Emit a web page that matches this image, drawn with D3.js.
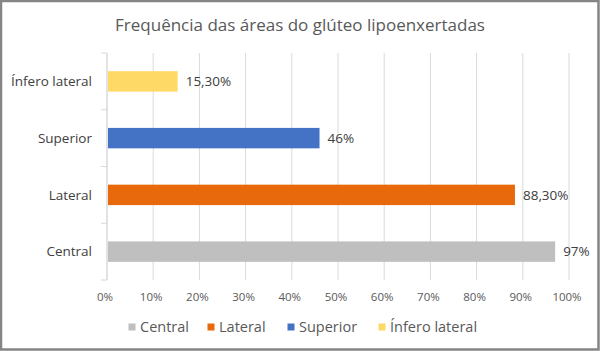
<!DOCTYPE html>
<html>
<head>
<meta charset="utf-8">
<script src="https://cdn.jsdelivr.net/npm/d3@7"></script>
<style>
  html, body { margin: 0; padding: 0; background: #fff; }
  svg { display: block; font-family: "Open Sans", "Noto Sans", sans-serif; }
</style>
</head>
<body>
<div id="chart"></div>
<script>
// Frequência das áreas do glúteo lipoenxertadas - horizontal bars
const categories = ["Central", "Lateral", "Superior", "Ínfero lateral"];
const values = [97, 88.3, 46, 15.3];
const value_labels = ["97%", "88,30%", "46%", "15,30%"];
const colors = ["#bfbfbf", "#e8690b", "#4472c4", "#ffd966"];
const x_ticks = [0, 10, 20, 30, 40, 50, 60, 70, 80, 90, 100];

const w = 600;
const h = 351;
const margin = { top: 53, right: 31, bottom: 71, left: 107 };

const svg = d3.select("#chart").append("svg")
    .attr("width", w)
    .attr("height", h);

// outer frame
svg.append("rect")
    .attr("x", 1).attr("y", 1)
    .attr("width", w - 2.5).attr("height", h - 2.5)
    .attr("fill", "#fff")
    .attr("stroke", "#858585")
    .attr("stroke-width", 2.5);

svg.append("text")
    .attr("x", 300)
    .attr("y", 31)
    .attr("text-anchor", "middle")
    .style("font-size", "17px")
    .style("fill", "#595959")
    .text("Frequência das áreas do glúteo lipoenxertadas");

const x = d3.scaleLinear()
    .domain([0, 100])
    .range([margin.left, w - margin.right]);

const y = d3.scaleBand()
    .domain(categories)
    .range([h - margin.bottom, margin.top])
    .paddingInner(0.64)
    .paddingOuter(0.32);

// gridlines
svg.append("g")
    .selectAll("line")
    .data(x_ticks)
    .join("line")
    .attr("x1", d => x(d)).attr("x2", d => x(d))
    .attr("y1", margin.top).attr("y2", h - margin.bottom)
    .attr("stroke", "#d9d9d9")
    .attr("stroke-width", 1);

// left axis with category boundary ticks
const bounds = d3.range(categories.length + 1).map(i => h - margin.bottom - i * (h - margin.bottom - margin.top) / categories.length);
const y_axis = svg.append("g");
y_axis.append("line")
    .attr("x1", x(0)).attr("x2", x(0))
    .attr("y1", margin.top).attr("y2", h - margin.bottom)
    .attr("stroke", "#d9d9d9");
y_axis.selectAll(".tk")
    .data(bounds)
    .join("line")
    .attr("class", "tk")
    .attr("x1", x(0) - 6).attr("x2", x(0))
    .attr("y1", d => d).attr("y2", d => d)
    .attr("stroke", "#d9d9d9");

y_axis.selectAll("text")
    .data(categories)
    .join("text")
    .attr("x", 92)
    .attr("y", d => y(d) + y.bandwidth() / 2)
    .attr("dy", "0.35em")
    .attr("text-anchor", "end")
    .style("font-size", "13.5px")
    .style("fill", "#404040")
    .text(d => d);

// x tick labels
svg.append("g")
    .selectAll("text")
    .data(x_ticks)
    .join("text")
    .attr("x", d => x(d) - 2)
    .attr("y", 297)
    .attr("dy", "0.35em")
    .attr("text-anchor", "middle")
    .style("font-size", "11.5px")
    .style("fill", "#595959")
    .text(d => d + "%");

// bars
svg.append("g")
    .selectAll("rect")
    .data(categories)
    .join("rect")
    .attr("x", x(0) + 1)
    .attr("y", d => y(d))
    .attr("width", (d, i) => x(values[i]) - x(0) - 1)
    .attr("height", y.bandwidth())
    .attr("fill", (d, i) => colors[i]);

// value labels
svg.append("g")
    .selectAll("text")
    .data(categories)
    .join("text")
    .attr("x", (d, i) => x(values[i]) + 8)
    .attr("y", d => y(d) + y.bandwidth() / 2)
    .attr("dy", "0.35em")
    .style("font-size", "13.5px")
    .style("fill", "#404040")
    .text((d, i) => value_labels[i]);

// legend
const legend_x = [132, 211, 291, 382];
const legend = svg.append("g")
    .selectAll("g")
    .data(categories)
    .join("g")
    .attr("transform", (d, i) => `translate(${legend_x[i]},327)`);

legend.append("rect")
    .attr("x", -3.5).attr("y", -3.5)
    .attr("width", 7).attr("height", 7)
    .attr("fill", (d, i) => colors[i]);

legend.append("text")
    .attr("x", 8)
    .attr("dy", "0.35em")
    .style("font-size", "14.5px")
    .style("fill", "#595959")
    .text(d => d);
</script>
</body>
</html>
